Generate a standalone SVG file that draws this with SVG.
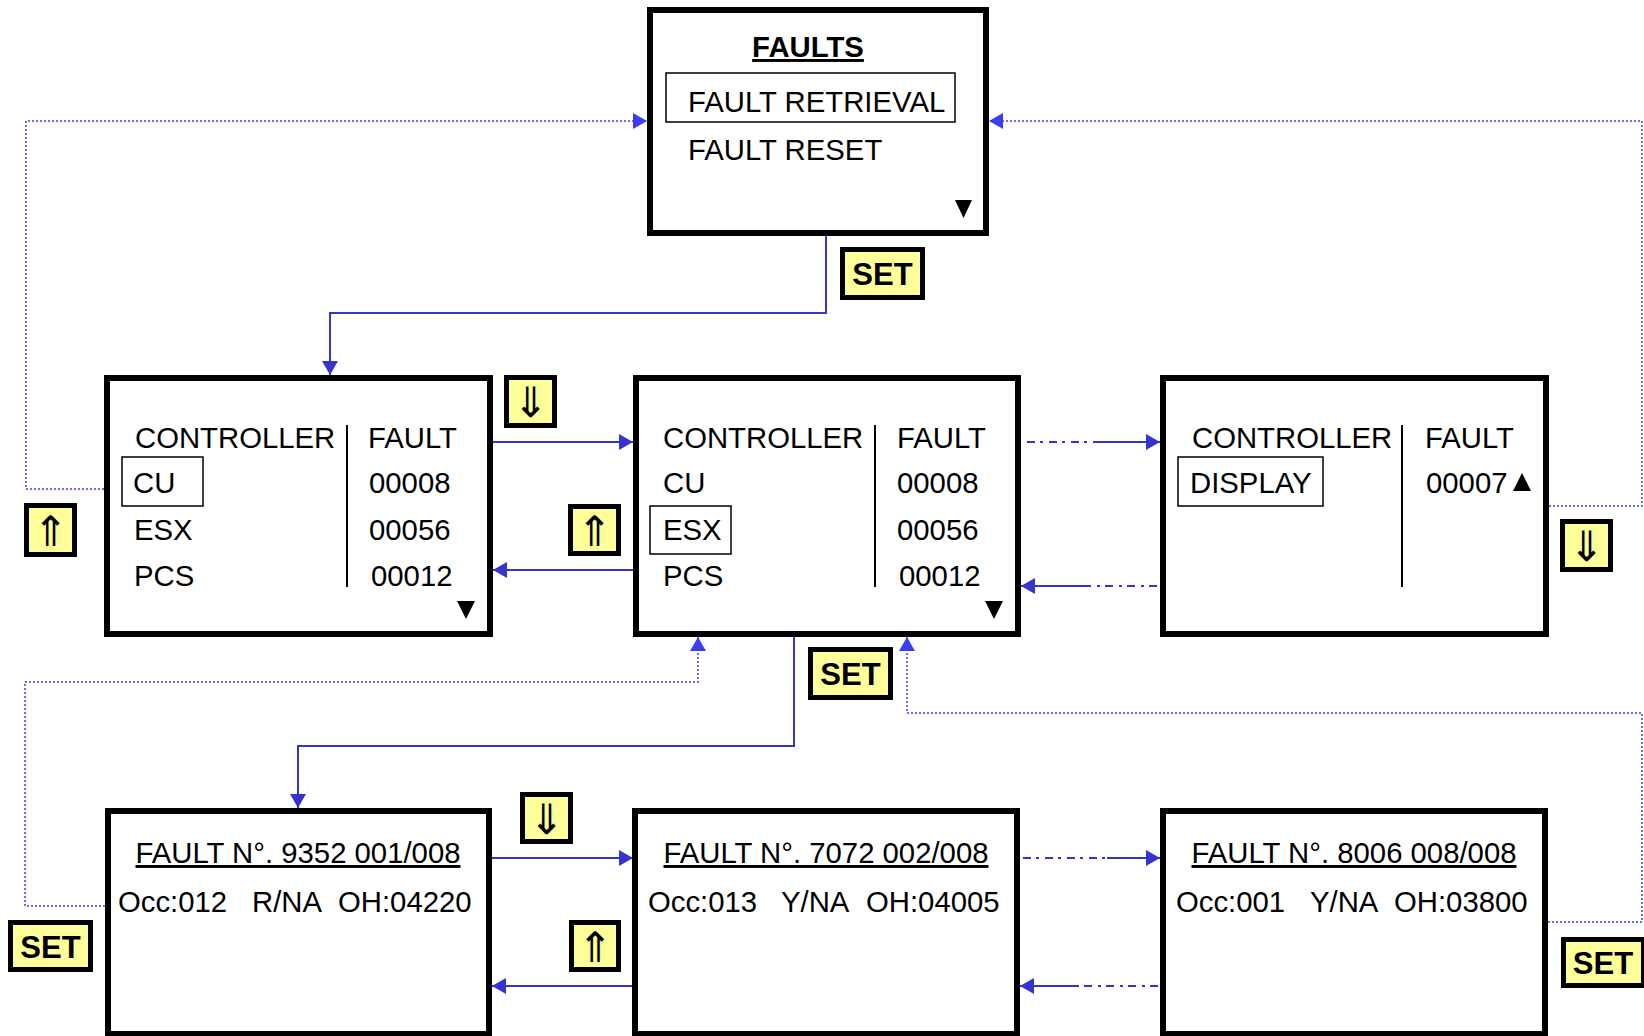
<svg xmlns="http://www.w3.org/2000/svg" width="1644" height="1036" viewBox="0 0 1644 1036">
<style>
.box{fill:#fff;stroke:#000;stroke-width:6}
.sel{fill:none;stroke:#000;stroke-width:1.5}
.dv{stroke:#000;stroke-width:2}
.t{font-family:"Liberation Sans",Arial,sans-serif;font-size:29.3px;fill:#000}
.b{font-weight:bold}
.u{text-decoration:underline}
.btn{fill:#FFFF99;stroke:#000;stroke-width:5}
.bt{font-family:"Liberation Sans",Arial,sans-serif;font-size:31px;font-weight:bold;fill:#000;text-anchor:middle}
.ar{font-family:"DejaVu Sans",sans-serif;font-size:42px;fill:#000;text-anchor:middle}
.c{fill:none;stroke:#3535CC;stroke-width:2}
.dd{stroke-dasharray:8 5 3 6}
.dot{fill:none;stroke:#3C3CF5;stroke-width:1.5;stroke-dasharray:2 2}
.tri{fill:#000}
</style>
<defs>
<marker id="ah" markerUnits="userSpaceOnUse" markerWidth="14" markerHeight="16" refX="14" refY="8" orient="auto">
<path d="M0,0 L14,8 L0,16 z" fill="#3535CC"/>
</marker>
<marker id="ahd" markerUnits="userSpaceOnUse" markerWidth="14" markerHeight="16" refX="14" refY="8" orient="auto">
<path d="M0,0 L14,8 L0,16 z" fill="#3C3CF5"/>
</marker>
</defs>

<g id="connectors">
<path class="c" d="M826,236 V313 H330 V375" marker-end="url(#ah)"/>
<path class="c" d="M493,442 H633" marker-end="url(#ah)"/>
<path class="c" d="M633,570 H493" marker-end="url(#ah)"/>
<path class="c dd" d="M1027,442 H1098"/>
<path class="c" d="M1098,442 H1160" marker-end="url(#ah)"/>
<path class="c" d="M1088,586 H1021" marker-end="url(#ah)"/>
<path class="c dd" d="M1157,586 H1088"/>
<path class="c" d="M794,637 V746 H298 V808" marker-end="url(#ah)"/>
<path class="c" d="M492,858 H633" marker-end="url(#ah)"/>
<path class="c" d="M633,986 H492" marker-end="url(#ah)"/>
<path class="c dd" d="M1023,858 H1107"/>
<path class="c" d="M1107,858 H1160" marker-end="url(#ah)"/>
<path class="c" d="M1077,986 H1020" marker-end="url(#ah)"/>
<path class="c dd" d="M1158,986 H1077"/>
<path class="dot" d="M104,489 H26 V121 H647" marker-end="url(#ahd)"/>
<path class="dot" d="M1549,506 H1642 V121 H989" marker-end="url(#ahd)"/>
<path class="dot" d="M105,906 H25 V682 H698 V637" marker-end="url(#ahd)"/>
<path class="dot" d="M1548,922 H1642 V713 H907 V637" marker-end="url(#ahd)"/>
</g>

<g id="faults">
<rect class="box" x="650" y="10" width="336" height="223"/>
<text class="t b u" x="808" y="57" text-anchor="middle">FAULTS</text>
<rect class="sel" x="666" y="73" width="289" height="49"/>
<text class="t" x="688" y="112">FAULT RETRIEVAL</text>
<text class="t" x="688" y="160">FAULT RESET</text>
<polygon class="tri" points="955,200 972,200 963.5,218"/>
</g>

<g id="ctrl1">
<rect class="box" x="107" y="378" width="383" height="256"/>
<line class="dv" x1="347" y1="425" x2="347" y2="587"/>
<rect class="sel" x="122" y="457" width="81" height="49"/>
<text class="t" x="135" y="448">CONTROLLER</text>
<text class="t" x="133" y="493">CU</text>
<text class="t" x="134" y="540">ESX</text>
<text class="t" x="134" y="586">PCS</text>
<text class="t" x="368" y="448">FAULT</text>
<text class="t" x="369" y="493">00008</text>
<text class="t" x="369" y="540">00056</text>
<text class="t" x="371" y="586">00012</text>
<polygon class="tri" points="457,601 475,601 466,619"/>
</g>

<g id="ctrl2">
<rect class="box" x="636" y="378" width="382" height="256"/>
<line class="dv" x1="875" y1="425" x2="875" y2="587"/>
<rect class="sel" x="650" y="506" width="81" height="48"/>
<text class="t" x="663" y="448">CONTROLLER</text>
<text class="t" x="663" y="493">CU</text>
<text class="t" x="663" y="540">ESX</text>
<text class="t" x="663" y="586">PCS</text>
<text class="t" x="897" y="448">FAULT</text>
<text class="t" x="897" y="493">00008</text>
<text class="t" x="897" y="540">00056</text>
<text class="t" x="899" y="586">00012</text>
<polygon class="tri" points="985,601 1003,601 994,619"/>
</g>

<g id="ctrl3">
<rect class="box" x="1163" y="378" width="383" height="256"/>
<line class="dv" x1="1402" y1="425" x2="1402" y2="587"/>
<rect class="sel" x="1178" y="457" width="145" height="49"/>
<text class="t" x="1192" y="448">CONTROLLER</text>
<text class="t" x="1190" y="493">DISPLAY</text>
<text class="t" x="1425" y="448">FAULT</text>
<text class="t" x="1426" y="493">00007</text>
<polygon class="tri" points="1522,473 1531,491 1513,491"/>
</g>

<g id="fault1">
<rect class="box" x="108" y="811" width="381" height="223"/>
<text class="t u" x="298" y="863" text-anchor="middle">FAULT N°. 9352 001/008</text>
<text class="t" x="118" y="912">Occ:012</text>
<text class="t" x="252" y="912">R/NA</text>
<text class="t" x="338" y="912">OH:04220</text>
</g>

<g id="fault2">
<rect class="box" x="635" y="811" width="382" height="223"/>
<text class="t u" x="826" y="863" text-anchor="middle">FAULT N°. 7072 002/008</text>
<text class="t" x="648" y="912">Occ:013</text>
<text class="t" x="781" y="912">Y/NA</text>
<text class="t" x="866" y="912">OH:04005</text>
</g>

<g id="fault8">
<rect class="box" x="1163" y="811" width="382" height="223"/>
<text class="t u" x="1354" y="863" text-anchor="middle">FAULT N°. 8006 008/008</text>
<text class="t" x="1176" y="912">Occ:001</text>
<text class="t" x="1310" y="912">Y/NA</text>
<text class="t" x="1394" y="912">OH:03800</text>
</g>

<g id="btn-set-top"><rect class="btn" x="842.5" y="249.5" width="80" height="48"/><text class="bt" x="882.5" y="285">SET</text></g>
<g id="btn-down-1"><rect class="btn" x="506.5" y="377.5" width="48" height="48"/><text class="ar" x="530.5" y="417">⇓</text></g>
<g id="btn-up-left"><rect class="btn" x="26.5" y="505.5" width="48" height="49"/><text class="ar" x="50.5" y="546">⇑</text></g>
<g id="btn-up-1"><rect class="btn" x="570.5" y="506.5" width="48" height="47"/><text class="ar" x="594.5" y="546">⇑</text></g>
<g id="btn-set-mid"><rect class="btn" x="810.5" y="649.5" width="80" height="48"/><text class="bt" x="850.5" y="685">SET</text></g>
<g id="btn-down-right"><rect class="btn" x="1562.5" y="521.5" width="48" height="48"/><text class="ar" x="1586.5" y="561">⇓</text></g>
<g id="btn-down-2"><rect class="btn" x="522.5" y="794.5" width="48" height="47"/><text class="ar" x="546.5" y="834">⇓</text></g>
<g id="btn-up-2"><rect class="btn" x="571.5" y="922.5" width="47" height="47"/><text class="ar" x="595" y="962">⇑</text></g>
<g id="btn-set-left"><rect class="btn" x="10.5" y="922.5" width="80" height="47"/><text class="bt" x="50.5" y="958">SET</text></g>
<g id="btn-set-right"><rect class="btn" x="1563.5" y="939.5" width="80" height="46"/><text class="bt" x="1603" y="974">SET</text></g>
</svg>
